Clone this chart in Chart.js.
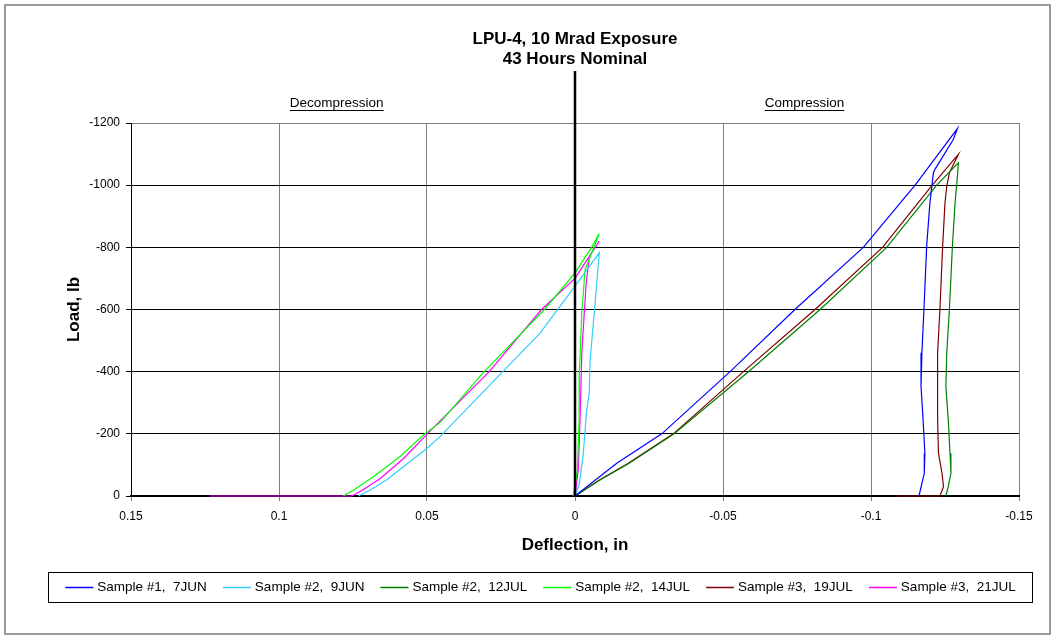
<!DOCTYPE html>
<html>
<head>
<meta charset="utf-8">
<title>LPU-4, 10 Mrad Exposure</title>
<script src="https://cdn.jsdelivr.net/npm/chart.js@4.4.1/dist/chart.umd.min.js"></script>
<style>
    body { margin: 0; background: #fff; }
    canvas { display: block; }
</style>
</head>
<body>
<canvas id="grafico" width="1055" height="637"></canvas>
<script>
// Datos (deflexion en pulgadas, carga en lb)
const xTicks = [0.15, 0.1, 0.05, 0, -0.05, -0.1, -0.15];
const yTicks = [0, -200, -400, -600, -800, -1000, -1200];

const etiquetas = ['Sample #1,  7JUN', 'Sample #2,  9JUN', 'Sample #2,  12JUL',
    'Sample #2,  14JUL', 'Sample #3,  19JUL', 'Sample #3,  21JUL'];
const colores = ['#0000ff', '#33ccff', '#008000', '#00ff00', '#800000', '#ff00ff'];

const s1Defl = [0, -0.0141, -0.0293, -0.0524, -0.0743, -0.0974, -0.1149, -0.1292, -0.1278, -0.1216, -0.1211, -0.1199, -0.1188, -0.1179, -0.1172, -0.1169, -0.1176, -0.1182, -0.1180, -0.1162];
const s1Load = [0, -105, -200, -400, -600, -800, -1000, -1182, -1147, -1051, -1040, -943, -803, -603, -461, -352, -245, -137, -73, 0];

const s2Defl = [0.0732, 0.0690, 0.0636, 0.0501, 0.0456, 0.0244, 0.0118, 0, -0.0082, -0.0068, -0.0051, -0.0048, -0.0039, -0.0028, -0.0015, 0];
const s2Load = [0, -20, -52, -153, -191, -400, -524, -675, -782, -621, -438, -331, -272, -137, -41, 0];

const s3Defl = [0, -0.0086, -0.0183, -0.0335, -0.0586, -0.0828, -0.1053, -0.1222, -0.1295, -0.1293, -0.1284, -0.1275, -0.1265, -0.1256, -0.1253, -0.1261, -0.1267, -0.1270, -0.1261, -0.1253];
const s3Load = [0, -52, -105, -200, -400, -600, -800, -1000, -1072, -1040, -943, -803, -603, -460, -352, -245, -137, -73, -30, 0];

const s4Defl = [0.0783, 0.0750, 0.0681, 0.0590, 0.0507, 0.0456, 0.0307, 0.0103, 0, -0.0056, -0.0082, -0.0034, -0.0023, -0.0015, -0.0014, -0.0008, 0.0006];
const s4Load = [0, -18, -62, -128, -200, -236, -400, -600, -718, -800, -844, -728, -589, -401, -245, -84, 0];

const s5Defl = [0, -0.0084, -0.0180, -0.0332, -0.0569, -0.0811, -0.1039, -0.1207, -0.1295, -0.1265, -0.1256, -0.1250, -0.1242, -0.1233, -0.1225, -0.1224, -0.1226, -0.1228, -0.1240, -0.1245, -0.1233, -0.1088];
const s5Load = [0, -52, -105, -200, -400, -600, -800, -1000, -1099, -1040, -997, -943, -803, -603, -460, -352, -245, -137, -73, -30, 0, 0];

const s6Defl = [0.1233, 0.0754, 0.0720, 0.0660, 0.0580, 0.0499, 0.0290, 0.0113, 0, -0.0082, -0.0048, -0.0037, -0.0023, -0.0017, -0.0011, 0];
const s6Load = [0, 0, -18, -55, -120, -200, -400, -600, -700, -820, -771, -675, -460, -245, -84, 0];

const series = [[s1Defl, s1Load], [s2Defl, s2Load], [s3Defl, s3Load],
    [s4Defl, s4Load], [s5Defl, s5Load], [s6Defl, s6Load]];

const fuente = '"Liberation Sans", Arial, sans-serif';

function puntos(xs, ys) {
    return xs.map((x, i) => ({ x: x, y: ys[i] }));
}

// Dibujo de textos, linea del cero, marco y leyenda
const extras = {
    id: 'extras',
    beforeDraw(chart) {
        const ctx = chart.ctx;
        ctx.save();
        ctx.fillStyle = '#fff';
        ctx.fillRect(0, 0, chart.width, chart.height);
        ctx.restore();
    },
    afterDatasetsDraw(chart) {
        const ctx = chart.ctx;
        const x0 = chart.scales.x.getPixelForValue(0);
        ctx.save();
        ctx.strokeStyle = '#000';
        ctx.lineWidth = 2.5;
        ctx.beginPath();
        ctx.moveTo(x0, 71);
        ctx.lineTo(x0, chart.chartArea.bottom);
        ctx.stroke();
        ctx.restore();
    },
    afterDraw(chart) {
        const ctx = chart.ctx;
        const area = chart.chartArea;
        const sx = chart.scales.x;
        ctx.save();

        // marco exterior
        ctx.strokeStyle = '#7a7a7a';
        ctx.lineWidth = 1.5;
        ctx.strokeRect(5, 5, 1045, 629);

        // titulo
        ctx.fillStyle = '#000';
        ctx.textAlign = 'center';
        ctx.textBaseline = 'middle';
        ctx.font = 'bold 17px ' + fuente;
        const cx = (area.left + area.right) / 2;
        ctx.fillText('LPU-4, 10 Mrad Exposure', cx, 39);
        ctx.fillText('43 Hours Nominal', cx, 59);

        // ejes
        ctx.fillText('Deflection, in', cx, 545);
        ctx.save();
        ctx.translate(74, (area.top + area.bottom) / 2);
        ctx.rotate(-Math.PI / 2);
        ctx.fillText('Load, lb', 0, 0);
        ctx.restore();

        // Decompression / Compression subrayados
        ctx.font = '13.5px ' + fuente;
        [['Decompression', 0.0805], ['Compression', -0.0775]].forEach(([txt, v]) => {
            const px = sx.getPixelForValue(v);
            ctx.fillText(txt, px, 103);
            const w = ctx.measureText(txt).width;
            ctx.lineWidth = 1;
            ctx.strokeStyle = '#000';
            ctx.beginPath();
            ctx.moveTo(px - w / 2, 110.5);
            ctx.lineTo(px + w / 2, 110.5);
            ctx.stroke();
        });

        // leyenda
        ctx.strokeStyle = '#000';
        ctx.lineWidth = 1;
        ctx.strokeRect(48.5, 572.5, 984, 30);
        ctx.font = '13.5px ' + fuente;
        ctx.textAlign = 'left';
        const largo = 28, sep = 4, hueco = 16;
        const items = chart.data.datasets.map(d => ({
            label: d.label, color: d.borderColor, w: ctx.measureText(d.label).width
        }));
        let total = items.reduce((s, it) => s + largo + sep + it.w, 0) + hueco * (items.length - 1);
        let x = 48.5 + 984 / 2 - total / 2;
        const yl = 587.5;
        items.forEach(it => {
            ctx.strokeStyle = it.color;
            ctx.lineWidth = 1.5;
            ctx.beginPath();
            ctx.moveTo(x, yl);
            ctx.lineTo(x + largo, yl);
            ctx.stroke();
            ctx.fillStyle = '#000';
            ctx.fillText(it.label, x + largo + sep, yl);
            x += largo + sep + it.w + hueco;
        });
        ctx.restore();
    }
};

const ctx = document.getElementById('grafico').getContext('2d');
new Chart(ctx, {
    type: 'scatter',
    data: {
        datasets: series.map((s, i) => ({
            label: etiquetas[i],
            data: puntos(s[0], s[1]),
            borderColor: colores[i],
            backgroundColor: colores[i],
            borderWidth: 1.2,
            showLine: true,
            pointRadius: 0,
            tension: 0,
            clip: 6
        }))
    },
    options: {
        responsive: false,
        animation: false,
        devicePixelRatio: 1,
        layout: { padding: { top: 123, right: 36, left: 0, bottom: 0 } },
        plugins: { legend: { display: false }, tooltip: { enabled: false }, title: { display: false } },
        scales: {
            x: {
                type: 'linear',
                min: -0.15,
                max: 0.15,
                reverse: true,
                afterFit: s => { s.height = 141; },
                afterBuildTicks: s => { s.ticks = xTicks.map(v => ({ value: v })); },
                ticks: {
                    font: { family: fuente, size: 12 },
                    color: '#000',
                    padding: 8,
                    maxRotation: 0,
                    autoSkip: false,
                    callback: v => String(Math.round(v * 100) / 100)
                },
                grid: { color: '#808080', lineWidth: 1, tickLength: 5, tickColor: '#808080' },
                border: { color: '#000', width: 2 }
            },
            y: {
                type: 'linear',
                min: -1200,
                max: 0,
                reverse: true,
                afterFit: s => { s.width = 131; },
                afterBuildTicks: s => { s.ticks = yTicks.map(v => ({ value: v })); },
                ticks: {
                    font: { family: fuente, size: 12 },
                    color: '#000',
                    padding: 6,
                    autoSkip: false,
                    callback: v => String(v)
                },
                grid: {
                    color: c => (c.tick && c.tick.value === -1200) ? '#808080' : '#000',
                    lineWidth: 1,
                    tickLength: 5,
                    tickColor: '#000'
                },
                border: { color: '#000', width: 1 }
            }
        }
    },
    plugins: [extras]
});
</script>
</body>
</html>
